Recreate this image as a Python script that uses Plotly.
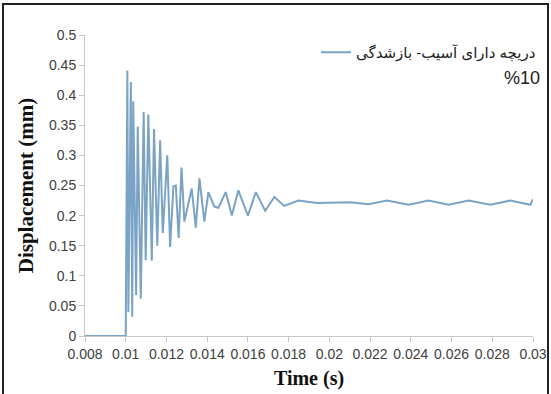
import plotly.graph_objects as go

# Time (s)
time_s = [0.008, 0.0100, 0.01008, 0.01013, 0.01025, 0.01032, 0.01037, 0.01051, 0.01059,
          0.01074, 0.01088, 0.01098, 0.01111, 0.01128, 0.01139, 0.01155, 0.01169, 0.01182,
          0.01204, 0.01218, 0.01234, 0.01246, 0.0126, 0.01274, 0.01288, 0.01324, 0.01344,
          0.01362, 0.01386, 0.01406, 0.01435, 0.01455, 0.01491, 0.01521, 0.01553, 0.016,
          0.01639, 0.01685, 0.0173, 0.01778, 0.01848, 0.01939, 0.02102, 0.02192, 0.02283,
          0.02389, 0.02487, 0.02585, 0.02684, 0.0279, 0.02889, 0.02987, 0.030]
# Displacement (mm)
displacement = [0.0, 0.0, 0.441, 0.040, 0.422, 0.032, 0.390, 0.068, 0.348,
                0.062, 0.372, 0.126, 0.368, 0.125, 0.344, 0.150, 0.325, 0.171,
                0.300, 0.148, 0.248, 0.250, 0.163, 0.280, 0.190, 0.245, 0.180,
                0.262, 0.190, 0.239, 0.215, 0.213, 0.239, 0.200, 0.242, 0.200,
                0.239, 0.208, 0.231, 0.216, 0.225, 0.221, 0.222, 0.219, 0.225,
                0.218, 0.225, 0.218, 0.225, 0.218, 0.225, 0.218, 0.227]

series_name = "دریچه دارای آسیب- بازشدگی"
series_suffix = "%10"

x_tickvals = [0.008, 0.010, 0.012, 0.014, 0.016, 0.018, 0.020, 0.022, 0.024, 0.026, 0.028, 0.030]
x_ticktext = ["0.008", "0.01", "0.012", "0.014", "0.016", "0.018", "0.02", "0.022",
              "0.024", "0.026", "0.028", "0.03"]
y_tickvals = [0, 0.05, 0.1, 0.15, 0.2, 0.25, 0.3, 0.35, 0.4, 0.45, 0.5]
y_ticktext = ["0", "0.05", "0.1", "0.15", "0.2", "0.25", "0.3", "0.35", "0.4", "0.45", "0.5"]

W, H = 551, 394
L, R, T, B = 85, 18, 35, 58
pw, ph = W - L - R, H - T - B

def px_x(p):
    return (p - L) / pw

def px_y(p):
    return (H - B - p) / ph

fig = go.Figure()
fig.add_trace(go.Scatter(
    x=time_s, y=displacement, mode="lines", name=series_name,
    line=dict(color="#7aa3c6", width=2),
))

fig.update_layout(
    width=W, height=H,
    margin=dict(l=L, r=R, t=T, b=B, autoexpand=False),
    paper_bgcolor="white", plot_bgcolor="white",
    showlegend=True,
    legend=dict(
        x=px_x(541), xanchor="right", y=px_y(36), yanchor="top",
        bgcolor="rgba(0,0,0,0)", font=dict(family="Arial, DejaVu Sans", size=15, color="#222"),
        itemwidth=30,
    ),
    xaxis=dict(
        range=[0.008, 0.03], tickvals=x_tickvals, ticktext=x_ticktext,
        showgrid=False, zeroline=False, showline=True, linecolor="#c8c8c8", linewidth=1,
        ticks="outside", ticklen=5, tickcolor="#c8c8c8",
        tickfont=dict(family="Arial", size=14, color="#404040"),
        title=dict(text="<b>Time (s)</b>", font=dict(family="Times New Roman, Liberation Serif", size=20, color="#111"), standoff=10),
    ),
    yaxis=dict(
        range=[0, 0.5], tickvals=y_tickvals, ticktext=y_ticktext,
        showgrid=False, zeroline=False, showline=True, linecolor="#c8c8c8", linewidth=1,
        ticks="outside", ticklen=5, tickcolor="#c8c8c8",
        tickfont=dict(family="Arial", size=14, color="#404040"),
        title=dict(text="<b>Displacement (mm)</b>", font=dict(family="Times New Roman, Liberation Serif", size=21, color="#111"), standoff=9),
    ),
    annotations=[dict(
        text=series_suffix, xref="paper", yref="paper", x=px_x(542), y=px_y(78),
        xanchor="right", yanchor="middle", showarrow=False,
        font=dict(family="Arial", size=18, color="#222"),
    )],
    shapes=[dict(
        type="rect", xref="paper", yref="paper",
        x0=px_x(3), x1=px_x(548), y0=px_y(420), y1=px_y(4),
        line=dict(color="#222", width=2), fillcolor="rgba(0,0,0,0)", layer="above",
    )],
)

fig.write_html("out.html", config={"displayModeBar": False},
               post_script="document.body.style.margin='0';document.body.style.padding='0';")
